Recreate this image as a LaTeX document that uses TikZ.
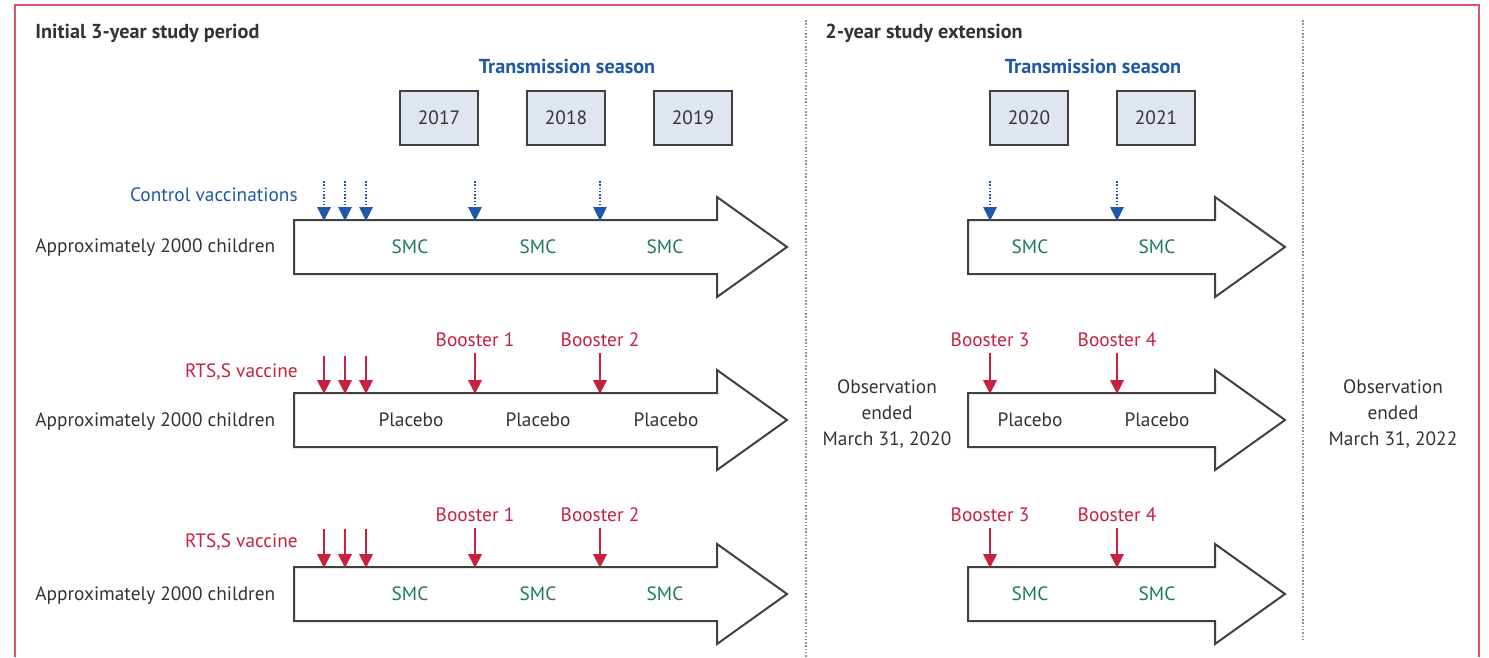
\documentclass[tikz,border=0pt]{standalone}
\usepackage{fontspec}
\setmainfont{PT Sans}
\usepackage{xcolor}
\usetikzlibrary{arrows.meta, positioning}
\definecolor{framered}{HTML}{D9566A}
\definecolor{studyblue}{HTML}{1F58A6}
\definecolor{studyred}{HTML}{C8203F}
\definecolor{smcgreen}{HTML}{1B7A55}
\definecolor{textgray}{HTML}{333333}
\definecolor{yearfill}{HTML}{DFE6F0}
\definecolor{sepgray}{HTML}{7D93A3}

\newcommand{\studyarrow}[4]{\draw[draw=darkgray, line width=0.04cm, line join=miter] (#1,#4-27) -- (#2,#4-27) -- (#2,#4-50) -- (#3,#4) -- (#2,#4+50) -- (#2,#4+27) -- (#1,#4+27) -- cycle;}

\begin{document}
\begin{tikzpicture}[x=0.02cm, y=-0.02cm, font=\fontsize{11}{14.7}\selectfont, text=textgray,
                    year/.style={draw=darkgray, fill=yearfill, line width=0.04cm, minimum width=1.56cm, minimum height=1.08cm, inner sep=0mm},
                    head/.style={font=\fontsize{11.5}{13.5}\selectfont\bfseries, anchor=west, inner xsep=0mm},
                    season/.style={font=\fontsize{11.5}{13.5}\selectfont\bfseries, text=studyblue},
                    smc/.style={text=smcgreen},
                    redlabel/.style={text=studyred},
                    leftlabel/.style={anchor=west, inner xsep=0mm},
                    rightlabel/.style={anchor=east, inner xsep=0mm},
                    ctrlarrow/.style={draw=studyblue, densely dotted, line width=0.03cm, -{Triangle[width=0.27cm, length=0.28cm, sep=0pt]}, studyblue},
                    rtsarrow/.style={draw=studyred, line width=0.04cm, -{Triangle[width=0.27cm, length=0.28cm, sep=0pt]}, studyred},
                    sep/.style={draw=sepgray, densely dotted, line width=0.03cm}]
                      \useasboundingbox (0,0) rectangle (1489,657);
                      \draw[draw=framered, line width=0.05cm] (15,657) -- (15,5) -- (1479,5) -- (1479,657);

                      \draw[sep] (806,20) -- (806,657);
                      \draw[sep] (1303,20) -- (1303,640);

                      \node[head] (initial) at (35,33) {Initial 3-year study period};
                      \node[head] (extension) at (825,33) {2-year study extension};
                      \node[season] (season1) at (567,66) {Transmission season};
                      \node[season] (season2) at (1093,66) {Transmission season};

                      \node[year] (y2017) at (439,118) {2017};
                      \node[year] (y2018) at (566,118) {2018};
                      \node[year] (y2019) at (693,118) {2019};
                      \node[year] (y2020) at (1029,118) {2020};
                      \node[year] (y2021) at (1156,118) {2021};

                      \studyarrow{294}{717}{787}{247}
                      \studyarrow{968}{1215}{1285}{247}
                      \studyarrow{294}{717}{787}{420}
                      \studyarrow{968}{1215}{1285}{420}
                      \studyarrow{294}{717}{787}{594}
                      \studyarrow{968}{1215}{1285}{594}

                      % group 1: control vaccinations + SMC
                      \node[leftlabel] (group1) at (35,248) {Approximately 2000 children};
                      \node[rightlabel, text=studyblue] (ctrl) at (298,195) {Control vaccinations};
                      \foreach \x [count=\i] in {324,345,366,475,600,990,1117} {
                        \coordinate (ctop\i) at (\x,181);
                        \coordinate (cbot\i) at (\x,221);
                        \draw[ctrlarrow] (ctop\i) -- (cbot\i);
                      }
                      \node[smc] (smc1a) at (410,247) {SMC};
                      \node[smc] (smc1b) at (538,247) {SMC};
                      \node[smc] (smc1c) at (665,247) {SMC};
                      \node[smc] (smc1d) at (1030,247) {SMC};
                      \node[smc] (smc1e) at (1157,247) {SMC};

                      % group 2: RTS,S + placebo
                      \node[leftlabel] (group2) at (35,422) {Approximately 2000 children};
                      \node[rightlabel, redlabel] (rts2) at (298,372) {RTS,S vaccine};
                      \foreach \x [count=\i] in {324,345,366} {
                        \coordinate (rtop\i) at (\x,356);
                        \coordinate (rbot\i) at (\x,394);
                        \draw[rtsarrow] (rtop\i) -- (rbot\i);
                      }
                      \node[redlabel] (b1g2) at (475,340) {Booster 1};
                      \node[redlabel] (b2g2) at (600,340) {Booster 2};
                      \node[redlabel] (b3g2) at (990,340) {Booster 3};
                      \node[redlabel] (b4g2) at (1117,340) {Booster 4};
                      \coordinate (t1g2) at (475,394);
                      \coordinate (t2g2) at (600,394);
                      \coordinate (t3g2) at (990,394);
                      \coordinate (t4g2) at (1117,394);
                      \draw[rtsarrow] (b1g2.south) -- (t1g2);
                      \draw[rtsarrow] (b2g2.south) -- (t2g2);
                      \draw[rtsarrow] (b3g2.south) -- (t3g2);
                      \draw[rtsarrow] (b4g2.south) -- (t4g2);
                      \node (pl2a) at (411,420) {Placebo};
                      \node (pl2b) at (538,420) {Placebo};
                      \node (pl2c) at (666,420) {Placebo};
                      \node (pl2d) at (1030,420) {Placebo};
                      \node (pl2e) at (1157,420) {Placebo};

                      % group 3: RTS,S + SMC
                      \node[leftlabel] (group3) at (35,596) {Approximately 2000 children};
                      \node[rightlabel, redlabel] (rts3) at (298,542) {RTS,S vaccine};
                      \foreach \x [count=\i] in {324,345,366} {
                        \coordinate (stop\i) at (\x,529);
                        \coordinate (sbot\i) at (\x,568);
                        \draw[rtsarrow] (stop\i) -- (sbot\i);
                      }
                      \node[redlabel] (b1g3) at (475,515) {Booster 1};
                      \node[redlabel] (b2g3) at (600,515) {Booster 2};
                      \node[redlabel] (b3g3) at (990,515) {Booster 3};
                      \node[redlabel] (b4g3) at (1117,515) {Booster 4};
                      \coordinate (t1g3) at (475,568);
                      \coordinate (t2g3) at (600,568);
                      \coordinate (t3g3) at (990,568);
                      \coordinate (t4g3) at (1117,568);
                      \draw[rtsarrow] (b1g3.south) -- (t1g3);
                      \draw[rtsarrow] (b2g3.south) -- (t2g3);
                      \draw[rtsarrow] (b3g3.south) -- (t3g3);
                      \draw[rtsarrow] (b4g3.south) -- (t4g3);
                      \node[smc] (smc3a) at (410,594) {SMC};
                      \node[smc] (smc3b) at (538,594) {SMC};
                      \node[smc] (smc3c) at (665,594) {SMC};
                      \node[smc] (smc3d) at (1030,594) {SMC};
                      \node[smc] (smc3e) at (1157,594) {SMC};

                      \node[align=center] (end2020) at (887,414) {Observation\\ended\\March 31, 2020};
                      \node[align=center] (end2022) at (1393,414) {Observation\\ended\\March 31, 2022};

                    \end{tikzpicture}
\end{document}
